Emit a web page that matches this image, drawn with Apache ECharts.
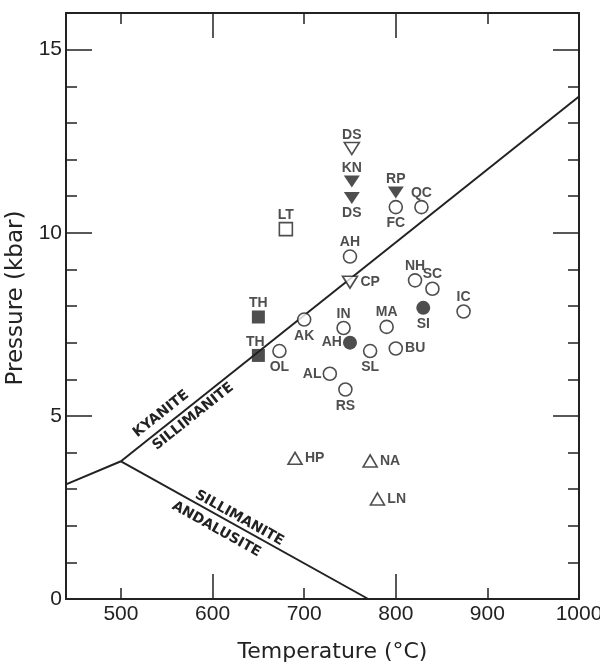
<!DOCTYPE html>
<html><head><meta charset="utf-8">
<script src="https://cdn.jsdelivr.net/npm/echarts@6/dist/echarts.min.js"></script>
<style>html,body{margin:0;padding:0;background:#fff}#c{width:600px;height:667px}</style>
</head><body><div id="c"></div>
<script>
// ---------- data ----------
const siteCodes = ['DS','KN','DS','RP','FC','QC','LT','AH','CP','NH','SC','IC','SI','TH','AK','IN','MA','TH','OL','AH','SL','BU','AL','RS','HP','NA','LN'];
const temperatures = [752,752,752,800,800,828,680,750,750,821,840,874,830,650,700,743,790,650,673,750,772,800,728,745,690,772,780];
const pressures = [12.3,11.4,10.95,11.1,10.7,10.7,10.1,9.35,8.65,8.7,8.47,7.85,7.95,7.7,7.63,7.4,7.43,6.65,6.77,7.0,6.77,6.84,6.15,5.72,3.84,3.77,2.73];
const markerKinds = ['triDownOpen','triDownFilled','triDownFilled','triDownFilled','circleOpen','circleOpen','squareOpen','circleOpen','triDownOpen','circleOpen','circleOpen','circleOpen','circleFilled','squareFilled','circleOpen','circleOpen','circleOpen','squareFilled','circleOpen','circleFilled','circleOpen','circleOpen','circleOpen','circleOpen','triUpOpen','triUpOpen','triUpOpen'];

const boundaryKyaniteAndalusite = [[440,3.13],[500,3.76]];
const boundaryKyaniteSillimanite = [[500,3.76],[1000,13.72]];
const boundarySillimaniteAndalusite = [[500,3.76],[770,0]];

const xLabelValues = [500,600,700,800,900,1000];
const xMajorTicks = [600,800,1000];
const xMinorTicks = [500,700,900];
const yLabelValues = [0,5,10,15];
const yMajorTicks = [5,10,15];
const yMinorTicks = [1,2,3,4,6,7,8,9,11,12,13,14];

// ---------- styles ----------
const INK = '#222';
const labelSide = ['top','top','bottom','top','bottom','top','top','top','right','top','top','top','bottom','top','bottom','top','top','top','bottom','left','bottom','right','left','bottom','right','right','right'];
const labelOffsets = {17:[-3,0]};
const kindStyle = {
  circleOpen:   {symbol:'circle', size:13, rotate:0, fill:'#fff', border:1.6},
  circleFilled: {symbol:'circle', size:14, rotate:0, fill:INK, border:0},
  squareOpen:   {symbol:'rect', size:13, rotate:0, fill:'#fff', border:1.6},
  squareFilled: {symbol:'rect', size:13, rotate:0, fill:INK, border:0},
  triDownOpen:  {symbol:'triangle', size:[15,12], rotate:180, fill:'#fff', border:1.6},
  triDownFilled:{symbol:'triangle', size:[16,12], rotate:180, fill:INK, border:0},
  triUpOpen:    {symbol:'triangle', size:[14,12], rotate:0, fill:'#fff', border:1.6}
};
const sideDistance = {top:0, bottom:2, left:1, right:2};

const points = siteCodes.map((code, i) => {
  const k = kindStyle[markerKinds[i]];
  return {
    name: code,
    value: [temperatures[i], pressures[i]],
    symbol: k.symbol, symbolSize: k.size, symbolRotate: k.rotate,
    itemStyle: {color: k.fill, borderColor: INK, borderWidth: k.border},
    label: {position: labelSide[i], distance: sideDistance[labelSide[i]], offset: labelOffsets[i] || [0,0]}
  };
});

const chart = echarts.init(document.getElementById('c'), null, {renderer:'canvas'});

function xAxisDef(position, ticks, len, showLine, showLabels) {
  const a = {
    type:'value', min:440, max:1000, position: position,
    axisLine:{show:showLine, onZero:false, lineStyle:{color:INK, width:2}},
    axisTick:{show:true, inside:true, length:len, customValues:ticks, lineStyle:{color:INK, width:1.5}},
    axisLabel:{show:showLabels, customValues:xLabelValues, formatter:(v) => String(v), margin:5, color:INK, fontSize:21, fontFamily:'Liberation Sans'},
    splitLine:{show:false}
  };
  if (showLabels) {
    a.name = 'Temperature (°C)';
    a.nameLocation = 'middle';
    a.nameGap = 42;
    a.nameTextStyle = {fontSize:22, fontFamily:'DejaVu Sans', color:INK, padding:[0,0,0,20]};
  }
  return a;
}
function yAxisDef(position, ticks, len, showLine, showLabels) {
  const a = {
    type:'value', min:0, max:16, position: position,
    axisLine:{show:showLine, onZero:false, lineStyle:{color:INK, width:2}},
    axisTick:{show:true, inside:true, length:len, customValues:ticks, lineStyle:{color:INK, width:1.5}},
    axisLabel:{show:showLabels, customValues:yLabelValues, formatter:(v) => String(v), margin:4, color:INK, fontSize:21, fontFamily:'Liberation Sans'},
    splitLine:{show:false}
  };
  if (showLabels) {
    a.name = 'Pressure (kbar)';
    a.nameLocation = 'middle';
    a.nameGap = 33;
    a.nameTextStyle = {fontSize:23, fontFamily:'DejaVu Sans', color:INK, padding:[0,0,0,16]};
  }
  return a;
}

function boundarySeries(data) {
  return {type:'line', data:data, xAxisIndex:0, yAxisIndex:0, symbol:'none', silent:true, z:2,
    lineStyle:{color:INK, width:2}};
}

chart.setOption({
  animation:false,
  backgroundColor:'#fff',
  grid:{left:66, right:21, top:13, bottom:68, outerBoundsMode:'none', containLabel:false},
  xAxis:[
    xAxisDef('bottom', xMinorTicks, 11, true, true),
    xAxisDef('bottom', xMajorTicks, 25, false, false),
    xAxisDef('top', xMinorTicks, 11, true, false),
    xAxisDef('top', xMajorTicks, 25, false, false)
  ],
  yAxis:[
    yAxisDef('left', yMajorTicks, 26, true, true),
    yAxisDef('left', yMinorTicks, 11, false, false),
    yAxisDef('right', yMajorTicks, 26, true, false),
    yAxisDef('right', yMinorTicks, 11, false, false)
  ],
  series:[
    boundarySeries(boundaryKyaniteAndalusite),
    boundarySeries(boundaryKyaniteSillimanite),
    boundarySeries(boundarySillimaniteAndalusite),
    {type:'scatter', xAxisIndex:0, yAxisIndex:0, z:5, data:points,
     label:{show:true, formatter:'{b}', color:INK, fontSize:14, fontWeight:'bold', fontFamily:'Liberation Sans'}}
  ]
});

// rotated boundary labels, placed along the boundary lines
function alongLine(seg, t, off, text) {
  const f = {xAxisIndex:0, yAxisIndex:0};
  const a = chart.convertToPixel(f, seg[0]);
  const b = chart.convertToPixel(f, seg[1]);
  const dx = b[0]-a[0], dy = b[1]-a[1];
  const len = Math.hypot(dx, dy);
  const nx = dy/len, ny = -dx/len;
  return {
    type:'text', silent:true, z:10,
    x: a[0] + dx*t + nx*off, y: a[1] + dy*t + ny*off,
    rotation: Math.atan2(-dy, dx),
    style:{text:text, fill:INK, font:'bold 14px "DejaVu Sans"', textAlign:'center', textVerticalAlign:'middle', align:'center', verticalAlign:'middle'}
  };
}
chart.setOption({
  graphic:[
    alongLine(boundaryKyaniteSillimanite, 0.104, 12, 'KYANITE'),
    alongLine(boundaryKyaniteSillimanite, 0.144, -10, 'SILLIMANITE'),
    alongLine(boundarySillimaniteAndalusite, 0.463, 8, 'SILLIMANITE'),
    alongLine(boundarySillimaniteAndalusite, 0.411, -13, 'ANDALUSITE')
  ]
});
</script>
</body></html>
